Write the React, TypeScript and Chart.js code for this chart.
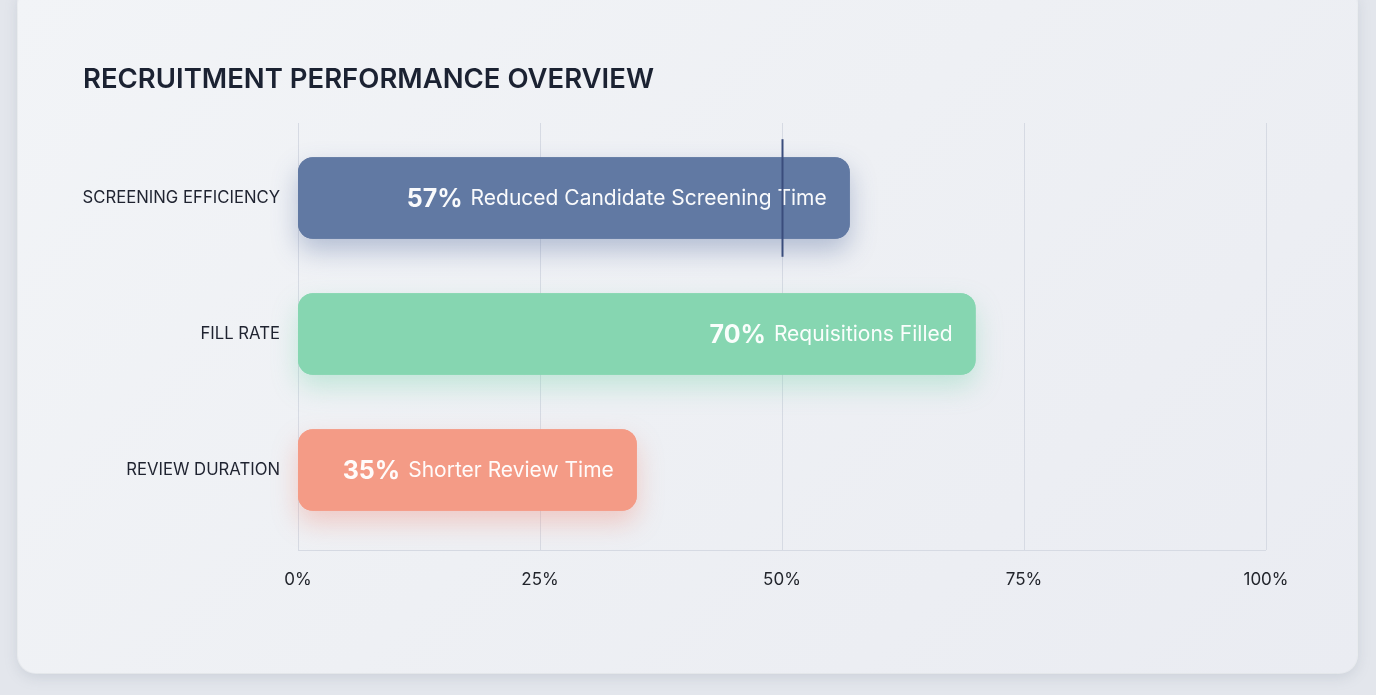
import React, { useEffect, useRef } from "react";
import { Chart, registerables } from "chart.js";

Chart.register(...registerables);

const categories = ["SCREENING EFFICIENCY", "FILL RATE", "REVIEW DURATION"];
const values = [57, 70, 35];
const descriptions = ["Reduced Candidate Screening Time", "Requisitions Filled", "Shorter Review Time"];
const markerValues: (number | null)[] = [50, null, null];
const barColors = ["#6179a3", "#86d6b1", "#f49b86"];
const shadowColors = ["rgba(70,95,150,0.35)", "rgba(110,210,165,0.35)", "rgba(240,130,110,0.35)"];
const xTickValues = [0, 25, 50, 75, 100];
const titleText = "RECRUITMENT PERFORMANCE OVERVIEW";

const FONT = "Inter, 'Noto Sans', sans-serif";

function roundRect(ctx: CanvasRenderingContext2D, x: number, y: number, w: number, h: number, r: number) {
  ctx.beginPath();
  ctx.moveTo(x + r, y);
  ctx.lineTo(x + w - r, y);
  ctx.arcTo(x + w, y, x + w, y + r, r);
  ctx.lineTo(x + w, y + h - r);
  ctx.arcTo(x + w, y + h, x + w - r, y + h, r);
  ctx.lineTo(x + r, y + h);
  ctx.arcTo(x, y + h, x, y + h - r, r);
  ctx.lineTo(x, y + r);
  ctx.arcTo(x, y, x + r, y, r);
  ctx.closePath();
}

const decorPlugin = {
  id: "decor",
  beforeDatasetsDraw(chart: any) {
    const ctx = chart.ctx as CanvasRenderingContext2D;
    const xs = chart.scales.x;
    const area = chart.chartArea;
    const top = area.top - 7;
    const bottom = area.bottom + 12;
    ctx.save();
    ctx.strokeStyle = "#d6dae3";
    ctx.lineWidth = 1;
    xTickValues.forEach((v) => {
      const px = Math.round(xs.getPixelForValue(v)) + 0.5;
      ctx.beginPath();
      ctx.moveTo(px, top);
      ctx.lineTo(px, bottom);
      ctx.stroke();
    });
    ctx.beginPath();
    ctx.moveTo(xs.getPixelForValue(0), bottom + 0.5);
    ctx.lineTo(xs.getPixelForValue(100), bottom + 0.5);
    ctx.stroke();
    // bar shadows
    const meta = chart.getDatasetMeta(0);
    meta.data.forEach((bar: any, i: number) => {
      const p = bar.getProps(["x", "y", "base", "height"], true);
      ctx.save();
      ctx.shadowColor = shadowColors[i];
      ctx.shadowBlur = 26;
      ctx.shadowOffsetY = 12;
      ctx.fillStyle = barColors[i];
      roundRect(ctx, p.base, p.y - p.height / 2, p.x - p.base, p.height, 15);
      ctx.fill();
      ctx.restore();
    });
    ctx.restore();
  },
  afterDatasetsDraw(chart: any) {
    const ctx = chart.ctx as CanvasRenderingContext2D;
    const xs = chart.scales.x;
    const meta = chart.getDatasetMeta(0);
    ctx.save();
    meta.data.forEach((bar: any, i: number) => {
      const p = bar.getProps(["x", "y", "base", "height"], true);
      const right = p.x - 23;
      ctx.textBaseline = "middle";
      ctx.textAlign = "right";
      ctx.fillStyle = "rgba(255,255,255,0.96)";
      ctx.font = `400 21px ${FONT}`;
      ctx.fillText(descriptions[i], right, p.y + 1);
      const w = ctx.measureText(descriptions[i]).width;
      ctx.font = `700 25px ${FONT}`;
      ctx.fillText(values[i] + "%", right - w - 8, p.y + 1);
      const m = markerValues[i];
      if (m !== null && m !== undefined) {
        const mx = Math.round(xs.getPixelForValue(m)) + 0.5;
        ctx.strokeStyle = "#3a4d7c";
        ctx.lineWidth = 2;
        ctx.beginPath();
        ctx.moveTo(mx, p.y - p.height / 2 - 18);
        ctx.lineTo(mx, p.y + p.height / 2 + 18);
        ctx.stroke();
      }
    });
    ctx.restore();
  },
};

export default function App() {
  const ref = useRef<HTMLCanvasElement>(null);
  useEffect(() => {
    if (!ref.current) return;
    const chart = new Chart(ref.current, {
      type: "bar",
      data: {
        labels: categories,
        datasets: [
          {
            data: values,
            backgroundColor: barColors,
            borderRadius: 15,
            borderSkipped: false,
            barPercentage: 0.6,
            categoryPercentage: 1,
          },
        ],
      },
      options: {
        indexAxis: "y",
        responsive: false,
        animation: false,
        layout: { padding: { left: 83, top: 40, right: 110, bottom: 77 } },
        plugins: {
          legend: { display: false },
          tooltip: { enabled: false },
          title: {
            display: true,
            text: titleText,
            align: "start",
            color: "#1b2232",
            font: { family: FONT, size: 27.5, weight: "600" },
            padding: { top: 23, bottom: 34 },
          },
        },
        scales: {
          x: {
            min: 0,
            max: 100,
            afterBuildTicks: (s: any) => {
              s.ticks = xTickValues.map((v) => ({ value: v }));
            },
            afterFit: (s: any) => {
              s.height = 80;
            },
            grid: { display: false, drawTicks: false },
            border: { display: false },
            ticks: {
              padding: 32,
              color: "#22252c",
              font: { family: FONT, size: 17 },
              callback: (v: any) => v + "%",
              maxRotation: 0,
            },
          },
          y: {
            afterFit: (s: any) => {
              s.width = 215;
            },
            grid: { display: false, drawTicks: false },
            border: { display: false },
            ticks: {
              padding: 18,
              color: "#1f2330",
              font: { family: FONT, size: 16.7 },
            },
          },
        },
      },
      plugins: [decorPlugin],
    } as any);
    return () => chart.destroy();
  }, []);

  return (
    <div style={{ position: "fixed", left: 0, top: 0, width: 1376, height: 695, background: "#e3e6ec", overflow: "hidden" }}>
      <div
        style={{
          position: "absolute",
          left: 18,
          top: -14,
          width: 1339,
          height: 687,
          borderRadius: 18,
          background: "linear-gradient(135deg, #f2f4f7 0%, #eef0f4 50%, #eaecf2 100%)",
          boxShadow: "0 4px 14px rgba(120,130,150,0.22), 0 0 0 1px rgba(255,255,255,0.7)",
        }}
      />
      <canvas ref={ref} width={1376} height={695} style={{ position: "absolute", left: 0, top: 0, display: "block" }} />
    </div>
  );
}
